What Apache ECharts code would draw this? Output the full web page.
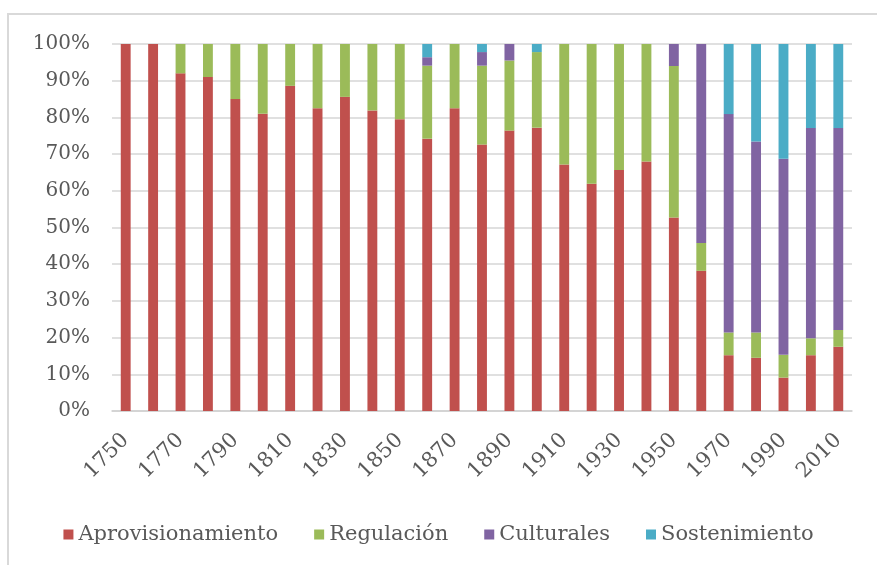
<!DOCTYPE html>
<html>
<head>
<meta charset="utf-8">
<script src="https://cdn.jsdelivr.net/npm/echarts@6/dist/echarts.min.js"></script>
<style>
  html, body { margin: 0; padding: 0; background: #fff; }
  #chart { width: 877px; height: 565px; }
</style>
</head>
<body>
<div id="chart"></div>
<script>
// Decades covered by the series
const years = ['1750','1760','1770','1780','1790','1800','1810','1820','1830','1840',
  '1850','1860','1870','1880','1890','1900','1910','1920','1930','1940',
  '1950','1960','1970','1980','1990','2000','2010'];

// Share (%) of each ecosystem service type per decade
const aprovisionamiento = [100, 100, 92, 91, 85, 81, 88.6, 82.5, 85.6, 81.9,
  79.5, 74.2, 82.5, 72.6, 76.4, 77.2, 67.2, 61.9, 65.7, 68.0,
  52.7, 38.2, 15.2, 14.5, 9.1, 15.2, 17.5];
const regulacion = [0, 0, 8, 9, 15, 19, 11.4, 17.5, 14.4, 18.1,
  20.5, 19.9, 17.5, 21.5, 19.1, 20.6, 32.8, 38.1, 34.3, 32.0,
  41.3, 7.6, 6.2, 6.9, 6.2, 4.6, 4.6];
const culturales = [0, 0, 0, 0, 0, 0, 0, 0, 0, 0,
  0, 2.3, 0, 3.7, 4.5, 0, 0, 0, 0, 0,
  6.0, 54.2, 59.5, 52.0, 53.4, 57.3, 55.0];
const sostenimiento = [0, 0, 0, 0, 0, 0, 0, 0, 0, 0,
  0, 3.6, 0, 2.2, 0, 2.2, 0, 0, 0, 0,
  0, 0, 19.1, 26.6, 31.3, 22.9, 22.9];

const seriesNames = ['Aprovisionamiento', 'Regulación', 'Culturales', 'Sostenimiento'];
const seriesColors = ['#C0504D', '#9BBB59', '#8064A2', '#4BACC6'];
const seriesData = [aprovisionamiento, regulacion, culturales, sostenimiento];

const font = 'DejaVu Serif';
const textColor = '#595959';

const chart = echarts.init(document.getElementById('chart'), null, { renderer: 'canvas' });

chart.setOption({
  animation: false,
  backgroundColor: '#ffffff',
  graphic: [{
    type: 'rect',
    shape: { x: 8, y: 14, width: 900, height: 600 },
    style: { fill: 'none', stroke: '#d9d9d9', lineWidth: 2 },
    silent: true
  }],
  grid: { left: 112, right: 25, top: 44, bottom: 154 },
  legend: {
    data: seriesNames,
    top: 519,
    left: 'center',
    itemWidth: 10,
    itemHeight: 10,
    itemGap: 36,
    icon: 'rect',
    textStyle: { fontFamily: font, fontSize: 21, color: textColor }
  },
  xAxis: {
    type: 'category',
    data: years,
    axisLine: { lineStyle: { color: '#d0d0d0', width: 1.5 } },
    axisTick: { show: false },
    axisLabel: {
      interval: 1,
      rotate: 45,
      margin: 26,
      fontFamily: font,
      fontSize: 21,
      color: textColor
    }
  },
  yAxis: {
    type: 'value',
    min: 0,
    max: 100,
    interval: 10,
    axisLine: { show: false },
    axisTick: { show: false },
    splitLine: { lineStyle: { color: '#d6d6d6', width: 1.5 } },
    axisLabel: {
      formatter: '{value}%',
      margin: 22,
      fontFamily: font,
      fontSize: 20,
      color: textColor
    }
  },
  series: seriesNames.map((name, i) => ({
    name: name,
    type: 'bar',
    stack: 'total',
    data: seriesData[i],
    barCategoryGap: '64%',
    itemStyle: { color: seriesColors[i] }
  }))
});
</script>
</body>
</html>
